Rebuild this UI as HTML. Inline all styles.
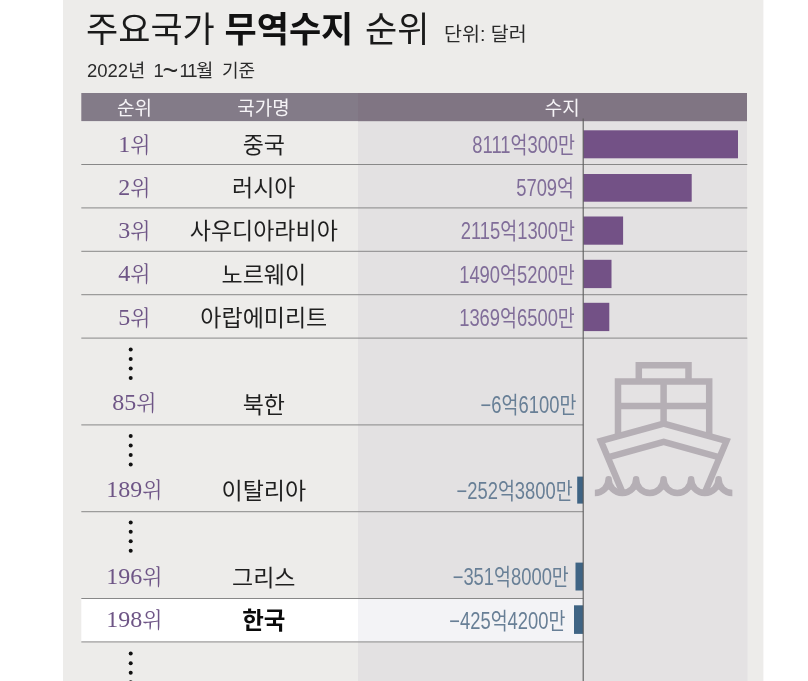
<!DOCTYPE html>
<html lang="ko"><head><meta charset="utf-8"><title>주요국가 무역수지 순위</title>
<style>
html,body{margin:0;padding:0;background:#fff;width:808px;height:681px;overflow:hidden}
#page{width:808px;height:681px;overflow:hidden;position:relative;background:#fff;font-family:"Liberation Sans",sans-serif}
#art{position:absolute;left:0;top:-10px;display:block;filter:blur(0.5px)}
#art text{font-family:"Liberation Sans","Noto Sans CJK KR",sans-serif}
#art text.rk{font-family:"Liberation Serif","Noto Serif CJK SC","Noto Sans CJK KR",serif}
#txt span,#txt h1,#txt p{position:absolute;display:block;margin:0;padding:0;font-weight:normal;white-space:nowrap;overflow:hidden;color:transparent;font-family:"Liberation Sans",sans-serif}
</style></head><body><div id="page">
<svg id="art" aria-hidden="true" width="808" height="701" viewBox="0 -10 808 701">
<rect x="63.00" y="-10.00" width="700.40" height="701.00" fill="#edecea"/><rect x="358.00" y="93.00" width="389.00" height="598.00" fill="#e3e1e2"/><rect x="81.30" y="93.00" width="665.70" height="28.10" fill="#837b88"/><rect x="358.00" y="93.00" width="389.00" height="28.10" fill="#807583"/><rect x="81.30" y="598.50" width="501.90" height="43.40" fill="#ffffff"/><rect x="358.00" y="598.50" width="225.20" height="43.40" fill="#f3f3f6"/><rect x="583.20" y="338.60" width="164.30" height="352.40" fill="#e4e2e3"/><rect x="81.30" y="164.00" width="666.00" height="1.00" fill="#888888"/><rect x="81.30" y="207.40" width="666.00" height="1.00" fill="#888888"/><rect x="81.30" y="250.80" width="666.00" height="1.00" fill="#888888"/><rect x="81.30" y="294.20" width="666.00" height="1.00" fill="#888888"/><rect x="81.30" y="337.60" width="666.00" height="1.00" fill="#888888"/><rect x="81.30" y="424.40" width="501.90" height="1.00" fill="#888888"/><rect x="81.30" y="511.20" width="501.90" height="1.00" fill="#888888"/><rect x="81.30" y="598.00" width="501.90" height="1.00" fill="#888888"/><rect x="81.30" y="641.40" width="501.90" height="1.00" fill="#888888"/><rect x="583.20" y="130.30" width="154.80" height="28.00" fill="#735186"/><rect x="583.20" y="174.00" width="108.50" height="27.70" fill="#735186"/><rect x="583.20" y="216.50" width="39.90" height="28.20" fill="#735186"/><rect x="583.20" y="259.80" width="28.30" height="28.30" fill="#735186"/><rect x="583.20" y="302.80" width="26.10" height="28.30" fill="#735186"/><rect x="577.20" y="476.60" width="6.00" height="27.00" fill="#3f6484"/><rect x="575.50" y="562.60" width="7.70" height="27.90" fill="#3f6484"/><rect x="574.00" y="605.30" width="9.20" height="28.60" fill="#3f6484"/><rect x="582.65" y="118.50" width="1.10" height="572.50" fill="#5c5c5c"/><circle cx="130.7" cy="349.4" r="2.0" fill="#111"/><circle cx="130.7" cy="359" r="2.0" fill="#111"/><circle cx="130.7" cy="368.5" r="2.0" fill="#111"/><circle cx="130.7" cy="377.9" r="2.0" fill="#111"/><circle cx="130.7" cy="436.1" r="2.0" fill="#111"/><circle cx="130.7" cy="445.5" r="2.0" fill="#111"/><circle cx="130.7" cy="455" r="2.0" fill="#111"/><circle cx="130.7" cy="464.4" r="2.0" fill="#111"/><circle cx="130.7" cy="522.4" r="2.0" fill="#111"/><circle cx="130.7" cy="531.8" r="2.0" fill="#111"/><circle cx="130.7" cy="541.3" r="2.0" fill="#111"/><circle cx="130.7" cy="550.7" r="2.0" fill="#111"/><circle cx="130.7" cy="653.6" r="2.0" fill="#111"/><circle cx="130.7" cy="663.2" r="2.0" fill="#111"/><circle cx="130.7" cy="672.7" r="2.0" fill="#111"/><circle cx="130.7" cy="682.2" r="2.0" fill="#111"/><g fill="none" stroke="#b5afb5" stroke-width="6.5" stroke-linejoin="miter" stroke-miterlimit="10">
<path d="M638.8,381.4V365.3H688.5V381.4"/>
<path d="M618,436.2V381.4H709.2V436.2"/>
<path d="M663.6,381.4V423.6M618,406H709.2"/>
<path d="M622.1,491.5L600.9,440.9L663.7,423.6L726.5,440.9L705.3,491.5"/>
<path d="M607.8,457.3L663.7,441.9L719.6,457.3"/>
</g>
<path d="M594.85,493.05A13.75,13.75 0 0 0 608.6,479.3A13.75,13.75 0 0 0 636.1,479.3A13.75,13.75 0 0 0 663.6,479.3A13.75,13.75 0 0 0 691.1,479.3A13.75,13.75 0 0 0 718.6,479.3A13.75,13.75 0 0 0 732.35,493.05" fill="none" stroke="#b5afb5" stroke-width="6.5" stroke-linejoin="round"/>
<text x="86" y="42.2" font-size="35" fill="#1a1a1a">주요국가</text>
<text x="224.5" y="42.2" font-size="35" font-weight="bold" fill="#111">무역수지</text>
<text x="365" y="42.2" font-size="35" fill="#1a1a1a">순위</text>
<text x="444" y="41" font-size="19.5" fill="#2a2a2a">단위: 달러</text>
<text x="87" y="77.1" font-size="18.5" fill="#2a2a2a">2022년</text>
<text x="153.5" y="77.1" font-size="18.5" fill="#2a2a2a">1</text>
<text x="162.5" y="80" font-size="27" fill="#2a2a2a">~</text>
<text x="179.5" y="77.1" font-size="18.5" letter-spacing="-1.2" fill="#2a2a2a">11월</text>
<text x="222" y="77.1" font-size="18" fill="#2a2a2a">기준</text>
<text x="134.5" y="114.7" font-size="19" text-anchor="middle" fill="#f6f4f7">순위</text>
<text x="263.4" y="115" font-size="19" text-anchor="middle" fill="#f6f4f7">국가명</text>
<text x="562.2" y="114.5" font-size="19" text-anchor="middle" fill="#f6f4f7">수지</text>
<text class="rk" x="134.3" y="151.5" font-size="24" text-anchor="middle" fill="#6e5586">1<tspan font-size="21">위</tspan></text>
<text class="rk" x="134.3" y="194.5" font-size="24" text-anchor="middle" fill="#6e5586">2<tspan font-size="21">위</tspan></text>
<text class="rk" x="134.3" y="238" font-size="24" text-anchor="middle" fill="#6e5586">3<tspan font-size="21">위</tspan></text>
<text class="rk" x="134.3" y="281.3" font-size="24" text-anchor="middle" fill="#6e5586">4<tspan font-size="21">위</tspan></text>
<text class="rk" x="134.3" y="324.8" font-size="24" text-anchor="middle" fill="#6e5586">5<tspan font-size="21">위</tspan></text>
<text class="rk" x="134.3" y="410.1" font-size="24" text-anchor="middle" fill="#6e5586">85<tspan font-size="21">위</tspan></text>
<text class="rk" x="134.3" y="497.3" font-size="24" text-anchor="middle" fill="#6e5586">189<tspan font-size="21">위</tspan></text>
<text class="rk" x="134.3" y="583.9" font-size="24" text-anchor="middle" fill="#6e5586">196<tspan font-size="21">위</tspan></text>
<text class="rk" x="134.3" y="626.9" font-size="24" text-anchor="middle" fill="#6e5586">198<tspan font-size="21">위</tspan></text>
<text x="263.8" y="153.3" font-size="23" text-anchor="middle" fill="#1f1f1f">중국</text>
<text x="263.8" y="196.4" font-size="23" text-anchor="middle" fill="#1f1f1f">러시아</text>
<text x="263.8" y="239.4" font-size="23" text-anchor="middle" fill="#1f1f1f">사우디아라비아</text>
<text x="263.8" y="282.6" font-size="23" text-anchor="middle" fill="#1f1f1f">노르웨이</text>
<text x="263.8" y="326.2" font-size="23" text-anchor="middle" fill="#1f1f1f">아랍에미리트</text>
<text x="263.8" y="412.5" font-size="23" text-anchor="middle" fill="#1f1f1f">북한</text>
<text x="263.8" y="499.3" font-size="23" text-anchor="middle" fill="#1f1f1f">이탈리아</text>
<text x="263.8" y="585.5" font-size="23" text-anchor="middle" fill="#1f1f1f">그리스</text>
<text x="263.8" y="628.5" font-size="23.5" font-weight="bold" text-anchor="middle" fill="#0a0a0a">한국</text>
<text transform="translate(575,153.2) scale(0.8,1)" font-size="23" text-anchor="end" fill="#806d99">8111억300만</text>
<text transform="translate(574,196.4) scale(0.8,1)" font-size="23" text-anchor="end" fill="#806d99">5709억</text>
<text transform="translate(575,239.4) scale(0.8,1)" font-size="23" text-anchor="end" fill="#806d99">2115억1300만</text>
<text transform="translate(574.8,282.7) scale(0.8,1)" font-size="23" text-anchor="end" fill="#806d99">1490억5200만</text>
<text transform="translate(574.8,326.1) scale(0.8,1)" font-size="23" text-anchor="end" fill="#806d99">1369억6500만</text>
<text transform="translate(576.3,412.8) scale(0.8,1)" font-size="23" text-anchor="end" fill="#687f96">−6억6100만</text>
<text transform="translate(572.7,498.8) scale(0.8,1)" font-size="23" text-anchor="end" fill="#687f96">−252억3800만</text>
<text transform="translate(568.8,585.3) scale(0.8,1)" font-size="23" text-anchor="end" fill="#687f96">−351억8000만</text>
<text transform="translate(565.4,628.9) scale(0.8,1)" font-size="23" text-anchor="end" fill="#687f96">−425억4200만</text>
</svg>
<div id="txt"><h1 style="left:86.9px;top:10.4px;width:342.3px;height:35.5px;font-size:35.5px;line-height:35.5px">주요국가 무역수지 순위</h1><span style="left:444.9px;top:24.1px;width:83.1px;height:18.9px;font-size:18.9px;line-height:18.9px">단위: 달러</span><p style="left:87.4px;top:60.9px;width:168.1px;height:18.6px;font-size:18.6px;line-height:18.6px">2022년 1~11월 기준</p><span style="left:117.2px;top:96.8px;width:34.7px;height:19.9px;font-size:19.9px;line-height:19.9px">순위</span><span style="left:237.4px;top:97.1px;width:52.0px;height:20.1px;font-size:20.1px;line-height:20.1px">국가명</span><span style="left:544.8px;top:97.1px;width:34.7px;height:19.4px;font-size:19.4px;line-height:19.4px">수지</span><span style="left:120.8px;top:131.5px;width:27.0px;height:23.0px;font-size:23.0px;line-height:23.0px">1위</span><span style="left:118.7px;top:174.5px;width:31.1px;height:23.0px;font-size:23.0px;line-height:23.0px">2위</span><span style="left:118.8px;top:218.0px;width:31.0px;height:23.0px;font-size:23.0px;line-height:23.0px">3위</span><span style="left:118.4px;top:261.3px;width:31.7px;height:23.0px;font-size:23.0px;line-height:23.0px">4위</span><span style="left:118.9px;top:304.8px;width:30.8px;height:23.0px;font-size:23.0px;line-height:23.0px">5위</span><span style="left:112.3px;top:390.1px;width:44.0px;height:23.0px;font-size:23.0px;line-height:23.0px">85위</span><span style="left:107.7px;top:477.3px;width:53.3px;height:23.0px;font-size:23.0px;line-height:23.0px">189위</span><span style="left:107.7px;top:563.9px;width:53.3px;height:23.0px;font-size:23.0px;line-height:23.0px">196위</span><span style="left:107.7px;top:606.9px;width:53.3px;height:23.0px;font-size:23.0px;line-height:23.0px">198위</span><span style="left:242.5px;top:132.4px;width:42.6px;height:23.3px;font-size:23.3px;line-height:23.3px">중국</span><span style="left:232.6px;top:174.9px;width:62.4px;height:23.9px;font-size:23.9px;line-height:23.9px">러시아</span><span style="left:188.8px;top:217.9px;width:150.1px;height:23.9px;font-size:23.9px;line-height:23.9px">사우디아라비아</span><span style="left:222.2px;top:261.1px;width:83.2px;height:23.9px;font-size:23.9px;line-height:23.9px">노르웨이</span><span style="left:200.5px;top:304.7px;width:126.7px;height:23.9px;font-size:23.9px;line-height:23.9px">아랍에미리트</span><span style="left:242.5px;top:390.8px;width:42.7px;height:24.1px;font-size:24.1px;line-height:24.1px">북한</span><span style="left:221.8px;top:477.8px;width:84.0px;height:23.9px;font-size:23.9px;line-height:23.9px">이탈리아</span><span style="left:231.8px;top:564.0px;width:63.9px;height:23.9px;font-size:23.9px;line-height:23.9px">그리스</span><span style="left:242.0px;top:606.4px;width:43.7px;height:24.6px;font-size:24.6px;line-height:24.6px">한국</span><span style="left:473.8px;top:132.8px;width:101.0px;height:22.7px;font-size:22.7px;line-height:22.7px">8111억300만</span><span style="left:517.3px;top:176.0px;width:56.3px;height:22.7px;font-size:22.7px;line-height:22.7px">5709억</span><span style="left:464.4px;top:219.0px;width:110.5px;height:22.7px;font-size:22.7px;line-height:22.7px">2115억1300만</span><span style="left:461.2px;top:262.3px;width:113.4px;height:22.6px;font-size:22.6px;line-height:22.6px">1490억5200만</span><span style="left:461.0px;top:305.7px;width:113.6px;height:22.6px;font-size:22.6px;line-height:22.6px">1369억6500만</span><span style="left:479.4px;top:392.4px;width:96.7px;height:22.6px;font-size:22.6px;line-height:22.6px">−6억6100만</span><span style="left:456.4px;top:478.4px;width:116.1px;height:22.6px;font-size:22.6px;line-height:22.6px">−252억3800만</span><span style="left:455.6px;top:564.9px;width:113.0px;height:22.6px;font-size:22.6px;line-height:22.6px">−351억8000만</span><span style="left:451.0px;top:608.5px;width:114.2px;height:22.6px;font-size:22.6px;line-height:22.6px">−425억4200만</span></div>
</div></body></html>
